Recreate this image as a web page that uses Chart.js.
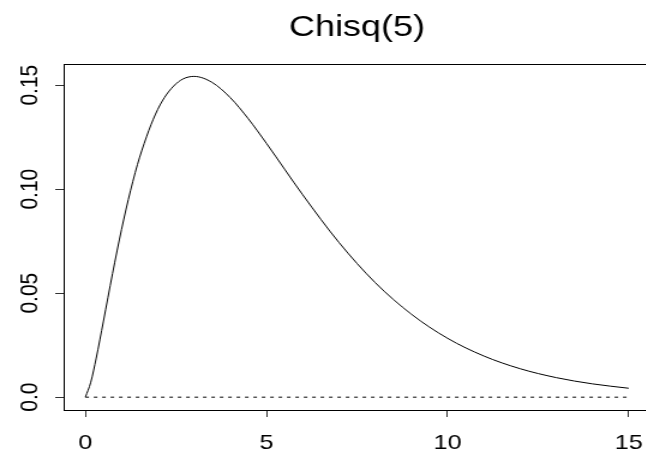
<!DOCTYPE html>
<html>
<head>
<meta charset="utf-8">
<script src="https://cdn.jsdelivr.net/npm/chart.js@4.4.1/dist/chart.umd.min.js"></script>
<style>
  html, body { margin: 0; padding: 0; background: #fff; overflow: hidden; width: 646px; height: 455px; }
  /* the reference picture is stretched sideways, so the whole chart is too */
  #wrap { width: 560px; height: 455px; transform: scaleX(1.2); transform-origin: 0 0; }
</style>
</head>
<body>
<div id="wrap"><canvas id="chart" width="560" height="455"></canvas></div>
<script>
const titleText = 'Chisq(5)';

// curve
const xValues = [0, 0.15, 0.3, 0.5, 0.75, 1, 1.25, 1.5, 2, 2.5, 3, 3.5, 4, 4.5, 5, 6, 7, 8, 9, 10, 11, 12, 13, 14, 15];
const densityValues = [0, 0.0072, 0.0188, 0.0366, 0.0594, 0.0807, 0.0995, 0.1154, 0.1384, 0.1506, 0.1542, 0.1513, 0.1440, 0.1338, 0.1220, 0.0973, 0.0744, 0.0551, 0.0399, 0.0283, 0.0198, 0.0137, 0.0094, 0.0064, 0.0043];

// dotted zero line
const baseX = [0, 15];
const baseY = [0, 0];

const xTicks = [0, 5, 10, 15];
const xTickLabels = ['0', '5', '10', '15'];
const yTicks = [0, 0.05, 0.10, 0.15];
const yTickLabels = ['0.0', '0.05', '0.10', '0.15'];

const fontFamily = '"Liberation Sans", Arial, sans-serif';
Chart.defaults.font.family = fontFamily;

// box, title and the rotated y labels (R style)
const framePlugin = {
  id: 'frame',
  afterDraw(chart) {
    const { ctx, chartArea: a, scales } = chart;
    ctx.save();
    ctx.strokeStyle = '#000';
    ctx.lineWidth = 1;
    ctx.strokeRect(Math.round(a.left) + 0.5, Math.round(a.top) + 0.5,
      Math.round(a.right - a.left), Math.round(a.bottom - a.top));

    ctx.fillStyle = '#000';
    ctx.textAlign = 'center';
    ctx.textBaseline = 'alphabetic';
    ctx.font = '30px ' + fontFamily;
    ctx.fillText(titleText, (a.left + a.right) / 2, 35.5);

    ctx.font = '21px ' + fontFamily;
    yTicks.forEach((v, i) => {
      const y = scales.y.getPixelForValue(v);
      ctx.save();
      ctx.translate(30.6, y);
      ctx.rotate(-Math.PI / 2);
      ctx.fillText(yTickLabels[i], 0, 0);
      ctx.restore();
    });
    ctx.restore();
  }
};

new Chart(document.getElementById('chart'), {
  type: 'scatter',
  data: {
    datasets: [
      {
        data: xValues.map((x, i) => ({ x: x, y: densityValues[i] })),
        showLine: true,
        borderColor: '#000',
        borderWidth: 1,
        pointRadius: 0,
        tension: 0.4,
        cubicInterpolationMode: 'monotone',
      },
      {
        data: baseX.map((x, i) => ({ x: x, y: baseY[i] })),
        showLine: true,
        borderColor: '#000',
        borderWidth: 1,
        borderDash: [3, 4],
        pointRadius: 0,
      }
    ]
  },
  options: {
    responsive: false,
    animation: false,
    layout: { padding: { top: 64, right: 18, left: 0, bottom: 0 } },
    plugins: {
      legend: { display: false },
      tooltip: { enabled: false },
    },
    scales: {
      x: {
        type: 'linear',
        min: -0.6,
        max: 15.6,
        afterBuildTicks: (s) => { s.ticks = xTicks.map(v => ({ value: v })); },
        afterFit: (s) => { s.height = 45; },
        ticks: {
          color: '#000',
          font: { size: 21 },
          padding: 14,
          maxRotation: 0,
          autoSkip: false,
          callback: (v) => xTickLabels[xTicks.indexOf(v)],
        },
        grid: { drawOnChartArea: false, tickLength: 7, color: '#333' },
        border: { display: false },
      },
      y: {
        min: -0.00616,
        max: 0.16016,
        afterBuildTicks: (s) => { s.ticks = yTicks.map(v => ({ value: v })); },
        afterFit: (s) => { s.width = 53; },
        ticks: { display: false },
        grid: { drawOnChartArea: false, tickLength: 7, color: '#333' },
        border: { display: false },
      }
    }
  },
  plugins: [framePlugin]
});
</script>
</body>
</html>
